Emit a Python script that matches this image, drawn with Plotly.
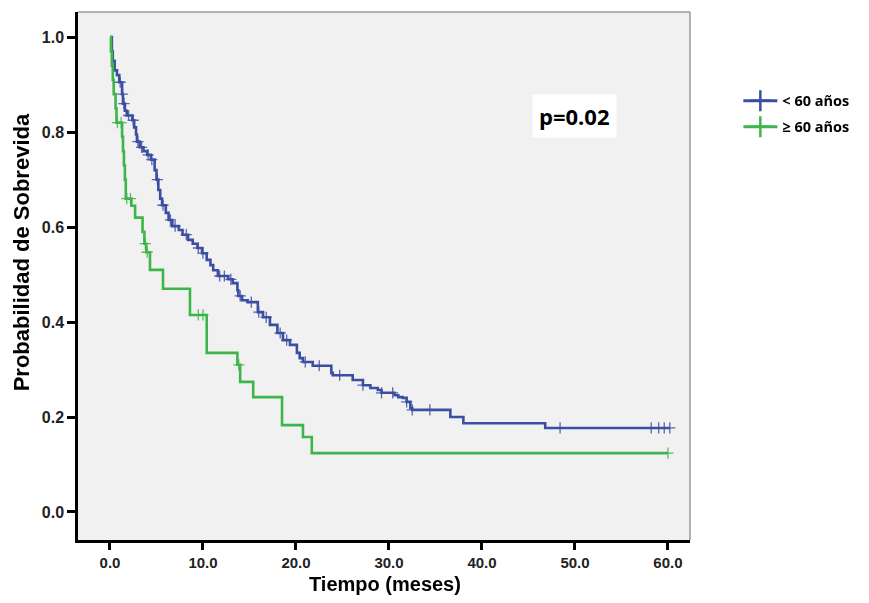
import numpy as np
import plotly.graph_objects as go

# ---- data ----
blue_name = "< 60 años"
green_name = "≥ 60 años"

blue_t = [0, 0.2, 0.3, 0.5, 0.75, 1.0, 1.3, 1.4, 1.6, 1.8, 2.4, 2.6, 2.8, 2.9, 3.2, 3.6, 4.0, 4.4,
          4.8, 5.0, 5.2, 5.4, 5.6, 6.0, 6.3, 6.7, 7.4, 7.8, 8.4, 8.9, 9.4, 9.9, 10.4, 10.8, 11.1,
          11.6, 12.7, 13.2, 13.7, 13.8, 14.2, 14.8, 15.9, 16.45, 17.2, 18.0, 18.6, 19.35, 20.1,
          20.4, 20.75, 21.8, 23.8, 23.95, 26.1, 27.2, 28.0, 28.8, 29.2, 30.6, 31.0, 31.5, 31.9,
          32.3, 32.5, 36.6, 38.0, 46.8, 60.2]
blue_s = [1.0, 0.97, 0.95, 0.93, 0.92, 0.905, 0.88, 0.86, 0.845, 0.835, 0.825, 0.81, 0.795, 0.78,
          0.768, 0.76, 0.752, 0.742, 0.72, 0.70, 0.678, 0.66, 0.646, 0.63, 0.615, 0.602, 0.594,
          0.584, 0.573, 0.565, 0.556, 0.545, 0.531, 0.52, 0.509, 0.497, 0.49, 0.482, 0.467, 0.455,
          0.446, 0.442, 0.421, 0.41, 0.394, 0.377, 0.362, 0.352, 0.335, 0.324, 0.316, 0.308,
          0.293, 0.288, 0.278, 0.267, 0.261, 0.257, 0.251, 0.246, 0.242, 0.24, 0.232, 0.219,
          0.215, 0.2, 0.187, 0.177, 0.177]
blue_cens = [1.1, 1.35, 1.5, 2.0, 2.5, 3.0, 3.4, 4.1, 4.5, 5.1, 5.7, 6.5, 7.0, 8.2, 9.5, 10.0,
             11.8, 12.3, 13.0, 14.0, 15.2, 16.0, 16.8, 18.3, 19.0, 21.0, 22.5, 24.7, 27.2,
             29.2, 30.4, 31.9, 32.5, 34.4, 48.4, 58.2, 59.0, 59.6, 60.2]

green_t = [0, 0.1, 0.2, 0.3, 0.4, 0.6, 0.7, 1.3, 1.4, 1.5, 1.6, 1.7, 2.3, 2.7, 3.5, 3.7, 3.9,
           4.3, 5.7, 8.6, 10.4, 13.7, 14.0, 15.4, 18.5, 20.75, 21.7, 60.0]
green_s = [1.0, 0.97, 0.94, 0.91, 0.88, 0.85, 0.82, 0.79, 0.76, 0.73, 0.70, 0.66, 0.645, 0.62,
           0.59, 0.565, 0.547, 0.51, 0.47, 0.415, 0.335, 0.31, 0.274, 0.242, 0.183, 0.158,
           0.124, 0.124]
green_cens = [0.8, 1.2, 1.8, 2.2, 3.8, 4.0, 9.5, 10.0, 13.85, 60.0]

x_ticks = [0, 10, 20, 30, 40, 50, 60]
y_ticks = [0.0, 0.2, 0.4, 0.6, 0.8, 1.0]
p_text = "p=0.02"
x_title = "Tiempo (meses)"
y_title = "Probabilidad de Sobrevida"

BLUE = "#3B4FA2"
GREEN = "#3DB54A"


def surv_at(times, surv, pts):
    idx = np.searchsorted(np.array(times), np.array(pts), side="right") - 1
    return [surv[i] for i in idx]


fig = go.Figure()
for t, s, c, col, name in [(blue_t, blue_s, blue_cens, BLUE, blue_name),
                           (green_t, green_s, green_cens, GREEN, green_name)]:
    fig.add_trace(go.Scatter(x=t, y=s, mode="lines", line=dict(color=col, width=2.6, shape="hv"),
                             showlegend=False, hoverinfo="skip"))
    fig.add_trace(go.Scatter(x=c, y=surv_at(t, s, c), mode="markers",
                             marker=dict(symbol="cross-thin", size=8,
                                         line=dict(color=col, width=1.3)),
                             opacity=0.85, showlegend=False, hoverinfo="skip"))

for i, (col, name) in enumerate([(BLUE, blue_name), (GREEN, green_name)]):
    fig.add_trace(go.Scatter(x=[None], y=[None], mode="lines+markers", name=name,
                             legendgroup="g%d" % i,
                             line=dict(color=col, width=3),
                             marker=dict(symbol="cross-thin", size=15,
                                         line=dict(color=col, width=2.5))))

fig.add_annotation(x=50, y=0.834, xref="x", yref="y", text="<b>" + p_text + "</b>",
                   showarrow=False, bgcolor="white", borderpad=6,
                   font=dict(family="Open Sans, Liberation Sans", size=22, color="black"))

# axis titles (placed as annotations to match their positions)
fig.add_annotation(x=-0.093, y=0.545, xref="paper", yref="paper", text="<b>" + y_title + "</b>",
                   textangle=-90, showarrow=False, xanchor="center", yanchor="middle",
                   font=dict(family="Liberation Sans, Arial", size=22, color="black"))
fig.add_annotation(x=0.502, y=-0.0833, xref="paper", yref="paper", text="<b>" + x_title + "</b>",
                   showarrow=False, xanchor="center", yanchor="middle",
                   font=dict(family="Liberation Sans, Arial", size=20, color="black"))

# top / right light frame
fig.add_shape(type="line", xref="paper", yref="paper", x0=0, x1=1, y0=1, y1=1,
              line=dict(color="#9a9a9a", width=1.5))
fig.add_shape(type="line", xref="paper", yref="paper", x0=1, x1=1, y0=0, y1=1,
              line=dict(color="#9a9a9a", width=1.5))

fig.update_layout(
    width=853, height=587,
    margin=dict(l=70, r=171, t=4, b=55, autoexpand=False),
    paper_bgcolor="white", plot_bgcolor="#f1f1f1",
    font=dict(family="Liberation Sans, Arial", color="#222222"),
    legend=dict(x=1.079, y=0.862, xanchor="left", yanchor="top",
                font=dict(family="Open Sans, Liberation Sans", size=14.5, color="black",
                          weight="bold"),
                bgcolor="rgba(0,0,0,0)", itemwidth=34, tracegroupgap=4),
    showlegend=True,
)
fig.update_xaxes(range=[-3.44, 62.37], tickvals=x_ticks, tickformat=".1f", automargin=False,
                 showgrid=False, zeroline=False, showline=True, linecolor="black", linewidth=2.5,
                 ticks="outside", ticklen=7, tickwidth=2.5, tickcolor="black",
                 tickfont=dict(size=15, weight="bold", color="#222222"))
fig.update_yaxes(range=[-0.059, 1.053], tickvals=y_ticks, tickformat=".1f", automargin=False,
                 showgrid=False, zeroline=False, showline=True, linecolor="black", linewidth=2.5,
                 ticks="outside", ticklen=8, tickwidth=2.5, tickcolor="black",
                 tickfont=dict(size=16, weight="bold", color="#222222"))

fig.write_html("out.html")
